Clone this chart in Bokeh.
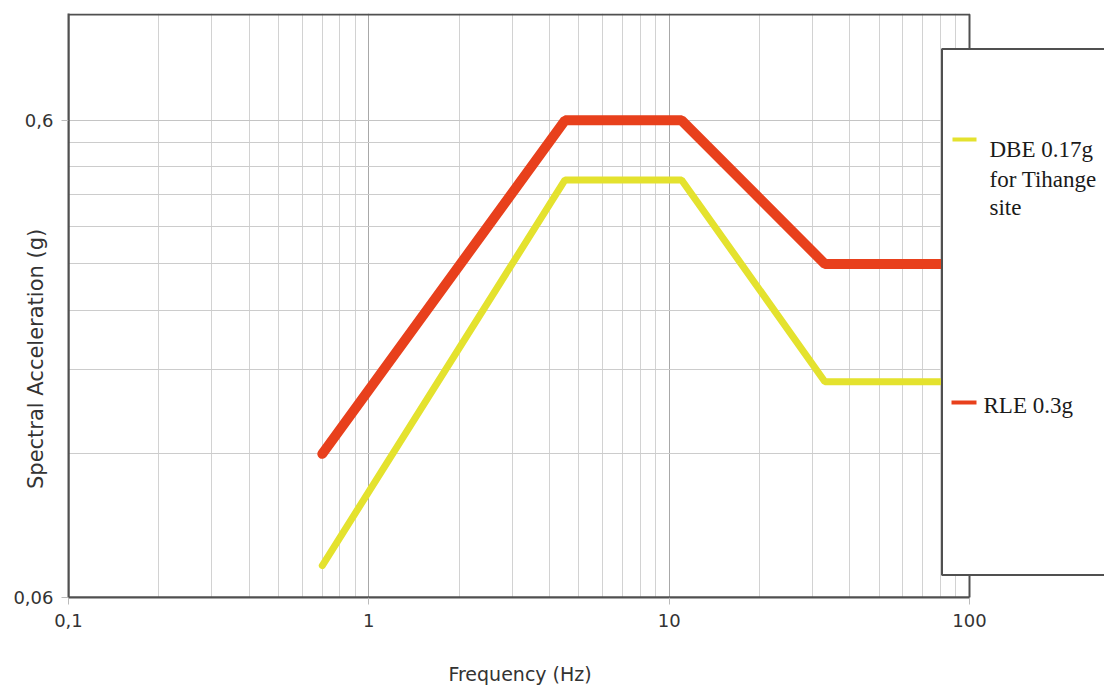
import math
from bokeh.plotting import figure
from bokeh.models import FixedTicker, BoxAnnotation, Label
from bokeh.embed import file_html
from bokeh.resources import INLINE

# ---- data ----
freq_dbe = [0.7, 4.5, 11, 33, 100]
sa_dbe = [0.07, 0.45, 0.45, 0.17, 0.17]
freq_rle = [0.7, 4.5, 11, 33, 100]
sa_rle = [0.12, 0.6, 0.6, 0.3, 0.3]

x_ticks = [0.1, 1, 10, 100]
x_tick_labels = ["0,1", "1", "10", "100"]
x_minor = [0.2, 0.3, 0.4, 0.5, 0.6, 0.7, 0.8, 0.9,
           2, 3, 4, 5, 6, 7, 8, 9,
           20, 30, 40, 50, 60, 70, 80, 90]
y_ticks = [0.06, 0.6]
y_tick_labels = ["0,06", "0,6"]
y_minor = [0.12, 0.18, 0.24, 0.30, 0.36, 0.42, 0.48, 0.54]
x_lo, x_hi = 0.1, 100
y_lo, y_hi = 0.06, 1.0

x_title = "Frequency (Hz)"
y_title = "Spectral Acceleration (g)"
dbe_label = ["DBE 0.17g", "for Tihange", "site"]
rle_label = "RLE 0.3g"

RED = "#e8401c"
YELLOW = "#e4e22e"
DARK = "#505050"
SANS = "DejaVu Sans"
SERIF = "Liberation Serif"
NBSP = "\u00a0"

# ---- page geometry (pixels) ----
W, H = 1104, 687
FL, FT, FRD, FB = 68, 14, 969, 597   # plot area: left, top, right (x=100), bottom
TOP_BORDER = 13
px_dec_x = (FRD - FL) / math.log10(x_hi / x_lo)
px_dec_y = (FB - FT) / math.log10(y_hi / y_lo)
x_end = x_hi * 10 ** ((W - FRD) / px_dec_x)       # frame runs to the page edge
y_end = y_hi * 10 ** ((FT - TOP_BORDER) / px_dec_y)

p = figure(width=W, height=H, x_axis_type="log", y_axis_type="log",
           x_range=(x_lo, x_end), y_range=(y_lo, y_end),
           output_backend="svg", toolbar_location=None,
           min_border_left=FL, min_border_right=0,
           min_border_top=TOP_BORDER, min_border_bottom=H - FB)
p.background_fill_color = "white"
p.border_fill_color = "white"
p.outline_line_color = None

# axes
p.xaxis.ticker = FixedTicker(ticks=x_ticks, minor_ticks=x_minor)
p.yaxis.ticker = FixedTicker(ticks=y_ticks, minor_ticks=y_minor)
p.xaxis.major_label_overrides = dict(zip(x_ticks, x_tick_labels))
p.yaxis.major_label_overrides = dict(zip(y_ticks, y_tick_labels))
p.xaxis.bounds = (x_lo, x_hi)
for ax in (p.xaxis, p.yaxis):
    ax.axis_line_color = DARK
    ax.axis_line_width = 2
    ax.major_tick_line_color = "#bbbbbb"
    ax.major_tick_out = 7
    ax.major_tick_in = 0
    ax.minor_tick_line_color = None
    ax.major_label_text_font = SANS
    ax.major_label_text_font_size = "18px"
    ax.major_label_text_color = "#333333"
    ax.major_label_standoff = 8
    ax.axis_label_text_font = SANS
    ax.axis_label_text_font_style = "normal"
    ax.axis_label_text_color = "#333333"
p.xaxis.major_label_standoff = 9
# titles are centred on the (extended) frame; trailing no-break spaces shift them
# to where the reference has them
p.xaxis.axis_label = x_title + NBSP * 22
p.xaxis.axis_label_text_font_size = "19px"
p.xaxis.axis_label_standoff = 33
p.yaxis.axis_label = y_title + NBSP * 16
p.yaxis.axis_label_text_font_size = "21px"
p.yaxis.axis_label_standoff = -38

# grid
p.xgrid.grid_line_color = "#a8a8a8"
p.ygrid.grid_line_color = "#c4c4c4"
p.xgrid.minor_grid_line_color = "#d2d2d2"
p.ygrid.minor_grid_line_color = "#cccccc"

# curves
p.line(freq_dbe, sa_dbe, line_color=YELLOW, line_width=7, line_cap="round")
p.line(freq_rle, sa_rle, line_color=RED, line_width=10, line_cap="round")

def sbox(left, right, top, bottom, **kw):
    """Box in page pixels (converted to frame-relative screen units)."""
    return BoxAnnotation(left=left - FL, right=right - FL, top=FB - top, bottom=FB - bottom,
                         left_units="screen", right_units="screen",
                         top_units="screen", bottom_units="screen", **kw)

# hide grid beyond the plot area (frame is extended for the legend)
p.add_layout(sbox(FRD + 1, W + 10, 576, FB + 5, fill_color="white", fill_alpha=1.0, line_color=None))
# plot border
p.add_layout(BoxAnnotation(left=x_lo, right=x_hi, top=y_hi, bottom=y_lo,
                           fill_alpha=0, line_color=DARK, line_width=2, line_alpha=1.0))
# legend box
p.add_layout(sbox(941.5, W + 20, 48.5, 574.5, fill_color="white", fill_alpha=1.0,
                  line_color=DARK, line_width=2, line_alpha=1.0))
p.add_layout(sbox(952, 976, 137, 141, fill_color=YELLOW, fill_alpha=1.0, line_color=None))
p.add_layout(sbox(951, 976, 400, 404, fill_color=RED, fill_alpha=1.0, line_color=None))
for txt, base in zip(dbe_label, [149, 179, 207]):
    p.add_layout(Label(x=989 - FL, y=FB - base, x_units="screen", y_units="screen",
                       text=txt, text_align="left", text_baseline="alphabetic",
                       text_font=SERIF, text_font_size="23px", text_color="#1a1a1a"))
p.add_layout(Label(x=983 - FL, y=FB - 405, x_units="screen", y_units="screen",
                   text=rle_label, text_align="left", text_baseline="alphabetic",
                   text_font=SERIF, text_font_size="23px", text_color="#1a1a1a"))

open("out.html", "w").write(file_html(p, INLINE))
